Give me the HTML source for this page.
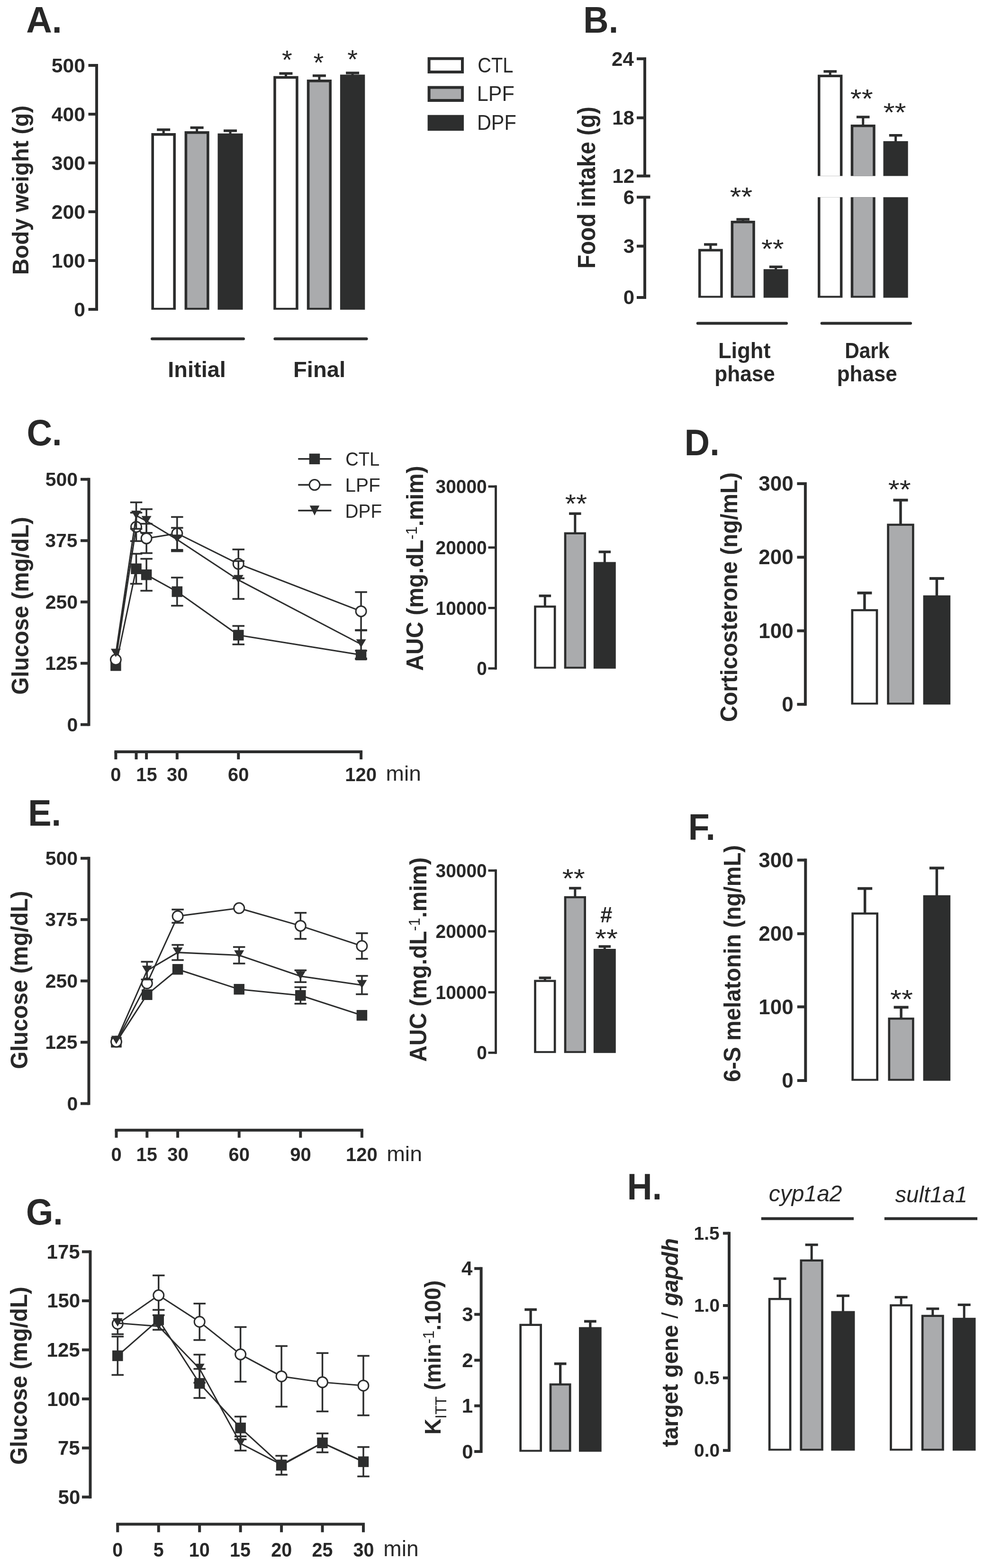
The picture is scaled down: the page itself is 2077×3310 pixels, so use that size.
<!DOCTYPE html>
<html><head><meta charset="utf-8"><title>Figure</title>
<style>
html,body{margin:0;padding:0;background:#fff;}
svg{display:block;}
text{font-family:"Liberation Sans",Arial,sans-serif;white-space:pre;}
</style></head>
<body>
<svg xmlns="http://www.w3.org/2000/svg" width="2077" height="3310" viewBox="0 0 2077 3310">
<rect width="2077" height="3310" fill="#fff"/>
<text transform="translate(55.21,69.00) scale(0.9792,1)" style="font-size:77.20px;font-weight:bold;font-style:normal" fill="#282828">A.</text>
<line x1="204.00" y1="135.00" x2="204.00" y2="656.00" stroke="#2c2d2d" stroke-width="6" stroke-linecap="butt"/>
<line x1="186.50" y1="138.00" x2="204.00" y2="138.00" stroke="#2c2d2d" stroke-width="6" stroke-linecap="butt"/>
<line x1="186.50" y1="241.00" x2="204.00" y2="241.00" stroke="#2c2d2d" stroke-width="6" stroke-linecap="butt"/>
<line x1="186.50" y1="344.00" x2="204.00" y2="344.00" stroke="#2c2d2d" stroke-width="6" stroke-linecap="butt"/>
<line x1="186.50" y1="447.00" x2="204.00" y2="447.00" stroke="#2c2d2d" stroke-width="6" stroke-linecap="butt"/>
<line x1="186.50" y1="550.00" x2="204.00" y2="550.00" stroke="#2c2d2d" stroke-width="6" stroke-linecap="butt"/>
<line x1="186.50" y1="653.00" x2="204.00" y2="653.00" stroke="#2c2d2d" stroke-width="6" stroke-linecap="butt"/>
<text x="108.87" y="152.70" style="font-size:42.60px;font-weight:bold;font-style:normal" fill="#282828">500</text>
<text x="108.87" y="255.70" style="font-size:42.60px;font-weight:bold;font-style:normal" fill="#282828">400</text>
<text x="108.87" y="358.70" style="font-size:42.60px;font-weight:bold;font-style:normal" fill="#282828">300</text>
<text x="108.87" y="461.70" style="font-size:42.60px;font-weight:bold;font-style:normal" fill="#282828">200</text>
<text x="108.87" y="564.70" style="font-size:42.60px;font-weight:bold;font-style:normal" fill="#282828">100</text>
<text x="156.26" y="667.70" style="font-size:42.60px;font-weight:bold;font-style:normal" fill="#282828">0</text>
<g transform="translate(59.70,580.32) rotate(-90) scale(0.9736,1)"><text x="0.00" y="0.00" style="font-size:49.00px;font-weight:bold;font-style:normal" fill="#282828">Body weight (g)</text></g>
<line x1="345.20" y1="282.00" x2="345.20" y2="273.80" stroke="#2c2d2d" stroke-width="5" stroke-linecap="butt"/>
<line x1="331.20" y1="273.80" x2="359.20" y2="273.80" stroke="#2c2d2d" stroke-width="5.4" stroke-linecap="butt"/>
<line x1="415.65" y1="278.00" x2="415.65" y2="269.50" stroke="#2c2d2d" stroke-width="5" stroke-linecap="butt"/>
<line x1="401.65" y1="269.50" x2="429.65" y2="269.50" stroke="#2c2d2d" stroke-width="5.4" stroke-linecap="butt"/>
<line x1="486.00" y1="282.70" x2="486.00" y2="276.00" stroke="#2c2d2d" stroke-width="5" stroke-linecap="butt"/>
<line x1="472.00" y1="276.00" x2="500.00" y2="276.00" stroke="#2c2d2d" stroke-width="5.4" stroke-linecap="butt"/>
<line x1="603.45" y1="161.60" x2="603.45" y2="155.10" stroke="#2c2d2d" stroke-width="5" stroke-linecap="butt"/>
<line x1="589.45" y1="155.10" x2="617.45" y2="155.10" stroke="#2c2d2d" stroke-width="5.4" stroke-linecap="butt"/>
<line x1="673.90" y1="169.00" x2="673.90" y2="159.80" stroke="#2c2d2d" stroke-width="5" stroke-linecap="butt"/>
<line x1="659.90" y1="159.80" x2="687.90" y2="159.80" stroke="#2c2d2d" stroke-width="5.4" stroke-linecap="butt"/>
<line x1="744.10" y1="158.50" x2="744.10" y2="154.00" stroke="#2c2d2d" stroke-width="5" stroke-linecap="butt"/>
<line x1="730.10" y1="154.00" x2="758.10" y2="154.00" stroke="#2c2d2d" stroke-width="5.4" stroke-linecap="butt"/>
<rect x="319.40" y="281.00" width="51.60" height="372.80" fill="#2c2d2d"/>
<rect x="325.00" y="286.60" width="40.40" height="363.20" fill="#ffffff"/>
<rect x="389.60" y="277.00" width="52.10" height="376.80" fill="#2c2d2d"/>
<rect x="395.20" y="282.60" width="40.90" height="367.20" fill="#aaabad"/>
<rect x="459.50" y="281.70" width="53.00" height="372.10" fill="#2d2e2e"/>
<rect x="577.20" y="160.60" width="52.50" height="493.20" fill="#2c2d2d"/>
<rect x="582.80" y="166.20" width="41.30" height="483.60" fill="#ffffff"/>
<rect x="647.80" y="168.00" width="52.20" height="485.80" fill="#2c2d2d"/>
<rect x="653.40" y="173.60" width="41.00" height="476.20" fill="#aaabad"/>
<rect x="717.90" y="157.50" width="52.40" height="496.30" fill="#2d2e2e"/>
<text transform="translate(594.97,145.11) scale(1.0166,1)" style="font-size:55.14px;font-weight:normal;font-style:normal" fill="#282828">*</text>
<text transform="translate(661.47,150.61) scale(1.0166,1)" style="font-size:55.14px;font-weight:normal;font-style:normal" fill="#282828">*</text>
<text transform="translate(733.27,143.61) scale(1.0166,1)" style="font-size:55.14px;font-weight:normal;font-style:normal" fill="#282828">*</text>
<line x1="321.00" y1="715.20" x2="514.00" y2="715.20" stroke="#2c2d2d" stroke-width="6" stroke-linecap="round"/>
<line x1="580.40" y1="715.20" x2="773.60" y2="715.20" stroke="#2c2d2d" stroke-width="6" stroke-linecap="round"/>
<text transform="translate(354.33,795.70) scale(0.9982,1)" style="font-size:47.00px;font-weight:bold;font-style:normal" fill="#282828">Initial</text>
<text transform="translate(619.02,795.70) scale(1.0032,1)" style="font-size:47.00px;font-weight:bold;font-style:normal" fill="#282828">Final</text>
<rect x="902.60" y="120.70" width="76.40" height="34.30" fill="#2c2d2d"/>
<rect x="908.60" y="126.70" width="64.40" height="22.30" fill="#ffffff"/>
<rect x="902.60" y="181.60" width="76.40" height="33.40" fill="#2c2d2d"/>
<rect x="908.60" y="187.60" width="64.40" height="21.40" fill="#aaabad"/>
<rect x="902.60" y="242.70" width="76.40" height="33.30" fill="#2d2e2e"/>
<text transform="translate(1008.31,153.40) scale(0.8979,1)" style="font-size:44.30px;font-weight:normal;font-style:normal" fill="#282828">CTL</text>
<text transform="translate(1006.74,213.30) scale(0.9742,1)" style="font-size:44.30px;font-weight:normal;font-style:normal" fill="#282828">LPF</text>
<text transform="translate(1006.88,273.80) scale(0.9354,1)" style="font-size:44.30px;font-weight:normal;font-style:normal" fill="#282828">DPF</text>
<text transform="translate(1231.31,69.00) scale(0.9569,1)" style="font-size:77.20px;font-weight:bold;font-style:normal" fill="#282828">B.</text>
<line x1="1361.00" y1="121.10" x2="1361.00" y2="371.50" stroke="#2c2d2d" stroke-width="6" stroke-linecap="butt"/>
<line x1="1361.00" y1="416.30" x2="1361.00" y2="631.00" stroke="#2c2d2d" stroke-width="6" stroke-linecap="butt"/>
<line x1="1344.00" y1="124.10" x2="1361.00" y2="124.10" stroke="#2c2d2d" stroke-width="6" stroke-linecap="butt"/>
<line x1="1344.00" y1="248.70" x2="1361.00" y2="248.70" stroke="#2c2d2d" stroke-width="6" stroke-linecap="butt"/>
<line x1="1344.00" y1="519.60" x2="1361.00" y2="519.60" stroke="#2c2d2d" stroke-width="6" stroke-linecap="butt"/>
<line x1="1344.00" y1="628.00" x2="1361.00" y2="628.00" stroke="#2c2d2d" stroke-width="6" stroke-linecap="butt"/>
<line x1="1344.00" y1="371.50" x2="1372.50" y2="371.50" stroke="#2c2d2d" stroke-width="6" stroke-linecap="butt"/>
<line x1="1344.00" y1="416.30" x2="1372.50" y2="416.30" stroke="#2c2d2d" stroke-width="6" stroke-linecap="butt"/>
<text x="1291.09" y="138.59" style="font-size:42.00px;font-weight:bold;font-style:normal" fill="#282828">24</text>
<text x="1292.14" y="263.19" style="font-size:42.00px;font-weight:bold;font-style:normal" fill="#282828">18</text>
<text x="1292.45" y="385.99" style="font-size:42.00px;font-weight:bold;font-style:normal" fill="#282828">12</text>
<text x="1315.66" y="430.79" style="font-size:42.00px;font-weight:bold;font-style:normal" fill="#282828">6</text>
<text x="1315.66" y="534.09" style="font-size:42.00px;font-weight:bold;font-style:normal" fill="#282828">3</text>
<text x="1315.87" y="642.49" style="font-size:42.00px;font-weight:bold;font-style:normal" fill="#282828">0</text>
<g transform="translate(1255.60,567.02) rotate(-90) scale(0.9359,1)"><text x="0.00" y="0.00" style="font-size:51.00px;font-weight:bold;font-style:normal" fill="#282828">Food intake (g)</text></g>
<line x1="1499.85" y1="526.50" x2="1499.85" y2="516.00" stroke="#2c2d2d" stroke-width="5" stroke-linecap="butt"/>
<line x1="1486.05" y1="516.00" x2="1513.65" y2="516.00" stroke="#2c2d2d" stroke-width="5.4" stroke-linecap="butt"/>
<line x1="1568.20" y1="467.00" x2="1568.20" y2="463.00" stroke="#2c2d2d" stroke-width="5" stroke-linecap="butt"/>
<line x1="1554.40" y1="463.00" x2="1582.00" y2="463.00" stroke="#2c2d2d" stroke-width="5.4" stroke-linecap="butt"/>
<line x1="1637.65" y1="569.20" x2="1637.65" y2="563.30" stroke="#2c2d2d" stroke-width="5" stroke-linecap="butt"/>
<line x1="1623.85" y1="563.30" x2="1651.45" y2="563.30" stroke="#2c2d2d" stroke-width="5.4" stroke-linecap="butt"/>
<rect x="1474.00" y="525.50" width="51.70" height="103.00" fill="#2c2d2d"/>
<rect x="1479.50" y="530.80" width="40.70" height="93.70" fill="#ffffff"/>
<rect x="1542.60" y="466.00" width="51.20" height="162.50" fill="#2c2d2d"/>
<rect x="1548.10" y="471.30" width="40.20" height="153.20" fill="#aaabad"/>
<rect x="1611.70" y="568.20" width="51.90" height="60.30" fill="#2d2e2e"/>
<line x1="1752.20" y1="158.70" x2="1752.20" y2="150.80" stroke="#2c2d2d" stroke-width="5" stroke-linecap="butt"/>
<line x1="1738.40" y1="150.80" x2="1766.00" y2="150.80" stroke="#2c2d2d" stroke-width="5.4" stroke-linecap="butt"/>
<rect x="1726.00" y="157.70" width="52.40" height="213.80" fill="#2c2d2d"/>
<rect x="1731.50" y="163.00" width="41.40" height="208.50" fill="#ffffff"/>
<rect x="1726.00" y="416.30" width="52.40" height="212.20" fill="#2c2d2d"/>
<rect x="1731.50" y="416.30" width="41.40" height="208.20" fill="#ffffff"/>
<line x1="1821.70" y1="264.00" x2="1821.70" y2="247.00" stroke="#2c2d2d" stroke-width="5" stroke-linecap="butt"/>
<line x1="1807.90" y1="247.00" x2="1835.50" y2="247.00" stroke="#2c2d2d" stroke-width="5.4" stroke-linecap="butt"/>
<rect x="1795.70" y="263.00" width="52.00" height="108.50" fill="#2c2d2d"/>
<rect x="1801.20" y="268.30" width="41.00" height="103.20" fill="#aaabad"/>
<rect x="1795.70" y="416.30" width="52.00" height="212.20" fill="#2c2d2d"/>
<rect x="1801.20" y="416.30" width="41.00" height="208.20" fill="#aaabad"/>
<line x1="1890.55" y1="299.00" x2="1890.55" y2="285.70" stroke="#2c2d2d" stroke-width="5" stroke-linecap="butt"/>
<line x1="1876.75" y1="285.70" x2="1904.35" y2="285.70" stroke="#2c2d2d" stroke-width="5.4" stroke-linecap="butt"/>
<rect x="1864.50" y="298.00" width="52.10" height="73.50" fill="#2d2e2e"/>
<rect x="1864.50" y="416.30" width="52.10" height="212.20" fill="#2d2e2e"/>
<text transform="translate(1540.73,434.11) scale(1.1051,1)" style="font-size:55.14px;font-weight:normal;font-style:normal" fill="#282828">**</text>
<text transform="translate(1606.98,544.11) scale(1.1124,1)" style="font-size:55.14px;font-weight:normal;font-style:normal" fill="#282828">**</text>
<text transform="translate(1794.82,226.61) scale(1.1149,1)" style="font-size:55.14px;font-weight:normal;font-style:normal" fill="#282828">**</text>
<text transform="translate(1864.42,255.61) scale(1.1197,1)" style="font-size:55.14px;font-weight:normal;font-style:normal" fill="#282828">**</text>
<line x1="1472.80" y1="682.50" x2="1660.00" y2="682.50" stroke="#2c2d2d" stroke-width="6" stroke-linecap="round"/>
<line x1="1734.70" y1="682.50" x2="1922.00" y2="682.50" stroke="#2c2d2d" stroke-width="6" stroke-linecap="round"/>
<text transform="translate(1515.95,755.70) scale(0.9669,1)" style="font-size:46.80px;font-weight:bold;font-style:normal" fill="#282828">Light</text>
<text transform="translate(1508.23,805.00) scale(0.9435,1)" style="font-size:46.80px;font-weight:bold;font-style:normal" fill="#282828">phase</text>
<text transform="translate(1783.14,755.70) scale(0.9062,1)" style="font-size:46.80px;font-weight:bold;font-style:normal" fill="#282828">Dark</text>
<text transform="translate(1766.74,805.00) scale(0.9389,1)" style="font-size:46.80px;font-weight:bold;font-style:normal" fill="#282828">phase</text>
<text transform="translate(56.43,940.00) scale(0.9623,1)" style="font-size:77.20px;font-weight:bold;font-style:normal" fill="#282828">C.</text>
<line x1="187.50" y1="1008.80" x2="187.50" y2="1532.60" stroke="#2c2d2d" stroke-width="6" stroke-linecap="butt"/>
<line x1="170.00" y1="1011.80" x2="187.50" y2="1011.80" stroke="#2c2d2d" stroke-width="6" stroke-linecap="butt"/>
<line x1="170.00" y1="1141.25" x2="187.50" y2="1141.25" stroke="#2c2d2d" stroke-width="6" stroke-linecap="butt"/>
<line x1="170.00" y1="1270.70" x2="187.50" y2="1270.70" stroke="#2c2d2d" stroke-width="6" stroke-linecap="butt"/>
<line x1="170.00" y1="1400.15" x2="187.50" y2="1400.15" stroke="#2c2d2d" stroke-width="6" stroke-linecap="butt"/>
<line x1="170.00" y1="1529.60" x2="187.50" y2="1529.60" stroke="#2c2d2d" stroke-width="6" stroke-linecap="butt"/>
<text x="95.77" y="1025.94" style="font-size:41.00px;font-weight:bold;font-style:normal" fill="#282828">500</text>
<text x="95.26" y="1155.39" style="font-size:41.00px;font-weight:bold;font-style:normal" fill="#282828">375</text>
<text x="95.77" y="1284.84" style="font-size:41.00px;font-weight:bold;font-style:normal" fill="#282828">250</text>
<text x="95.26" y="1414.29" style="font-size:41.00px;font-weight:bold;font-style:normal" fill="#282828">125</text>
<text x="141.38" y="1543.74" style="font-size:41.00px;font-weight:bold;font-style:normal" fill="#282828">0</text>
<g transform="translate(59.90,1466.40) rotate(-90) scale(0.9513,1)"><text x="0.00" y="0.00" style="font-size:50.00px;font-weight:bold;font-style:normal" fill="#282828">Glucose (mg/dL)</text></g>
<line x1="241.40" y1="1587.00" x2="765.10" y2="1587.00" stroke="#2c2d2d" stroke-width="6" stroke-linecap="butt"/>
<line x1="244.40" y1="1587.00" x2="244.40" y2="1603.00" stroke="#2c2d2d" stroke-width="6" stroke-linecap="butt"/>
<line x1="287.54" y1="1587.00" x2="287.54" y2="1603.00" stroke="#2c2d2d" stroke-width="6" stroke-linecap="butt"/>
<line x1="309.11" y1="1587.00" x2="309.11" y2="1603.00" stroke="#2c2d2d" stroke-width="6" stroke-linecap="butt"/>
<line x1="373.83" y1="1587.00" x2="373.83" y2="1603.00" stroke="#2c2d2d" stroke-width="6" stroke-linecap="butt"/>
<line x1="503.25" y1="1587.00" x2="503.25" y2="1603.00" stroke="#2c2d2d" stroke-width="6" stroke-linecap="butt"/>
<line x1="762.10" y1="1587.00" x2="762.10" y2="1603.00" stroke="#2c2d2d" stroke-width="6" stroke-linecap="butt"/>
<text x="233.30" y="1648.50" style="font-size:40.00px;font-weight:bold;font-style:normal" fill="#282828">0</text>
<text x="287.21" y="1648.50" style="font-size:40.00px;font-weight:bold;font-style:normal" fill="#282828">15</text>
<text x="351.98" y="1648.50" style="font-size:40.00px;font-weight:bold;font-style:normal" fill="#282828">30</text>
<text x="481.10" y="1648.50" style="font-size:40.00px;font-weight:bold;font-style:normal" fill="#282828">60</text>
<text x="728.30" y="1648.50" style="font-size:40.00px;font-weight:bold;font-style:normal" fill="#282828">120</text>
<text transform="translate(814.59,1648.30) scale(1.0225,1)" style="font-size:45.00px;font-weight:normal;font-style:normal" fill="#282828">min</text>
<polyline points="244.40,1405.02 287.54,1200.69 309.11,1213.33 373.83,1248.95 503.25,1340.81 762.10,1382.54" fill="none" stroke="#2c2d2d" stroke-width="3"/>
<line x1="287.54" y1="1200.69" x2="287.54" y2="1168.99" stroke="#2c2d2d" stroke-width="3.5" stroke-linecap="butt"/>
<line x1="274.79" y1="1168.99" x2="300.29" y2="1168.99" stroke="#2c2d2d" stroke-width="3.6" stroke-linecap="butt"/>
<line x1="287.54" y1="1200.69" x2="287.54" y2="1232.39" stroke="#2c2d2d" stroke-width="3.5" stroke-linecap="butt"/>
<line x1="274.79" y1="1232.39" x2="300.29" y2="1232.39" stroke="#2c2d2d" stroke-width="3.6" stroke-linecap="butt"/>
<line x1="309.11" y1="1213.33" x2="309.11" y2="1179.63" stroke="#2c2d2d" stroke-width="3.5" stroke-linecap="butt"/>
<line x1="296.36" y1="1179.63" x2="321.86" y2="1179.63" stroke="#2c2d2d" stroke-width="3.6" stroke-linecap="butt"/>
<line x1="309.11" y1="1213.33" x2="309.11" y2="1247.03" stroke="#2c2d2d" stroke-width="3.5" stroke-linecap="butt"/>
<line x1="296.36" y1="1247.03" x2="321.86" y2="1247.03" stroke="#2c2d2d" stroke-width="3.6" stroke-linecap="butt"/>
<line x1="373.83" y1="1248.95" x2="373.83" y2="1219.25" stroke="#2c2d2d" stroke-width="3.5" stroke-linecap="butt"/>
<line x1="361.08" y1="1219.25" x2="386.58" y2="1219.25" stroke="#2c2d2d" stroke-width="3.6" stroke-linecap="butt"/>
<line x1="373.83" y1="1248.95" x2="373.83" y2="1278.65" stroke="#2c2d2d" stroke-width="3.5" stroke-linecap="butt"/>
<line x1="361.08" y1="1278.65" x2="386.58" y2="1278.65" stroke="#2c2d2d" stroke-width="3.6" stroke-linecap="butt"/>
<line x1="503.25" y1="1340.81" x2="503.25" y2="1321.31" stroke="#2c2d2d" stroke-width="3.5" stroke-linecap="butt"/>
<line x1="490.50" y1="1321.31" x2="516.00" y2="1321.31" stroke="#2c2d2d" stroke-width="3.6" stroke-linecap="butt"/>
<line x1="503.25" y1="1340.81" x2="503.25" y2="1360.31" stroke="#2c2d2d" stroke-width="3.5" stroke-linecap="butt"/>
<line x1="490.50" y1="1360.31" x2="516.00" y2="1360.31" stroke="#2c2d2d" stroke-width="3.6" stroke-linecap="butt"/>
<line x1="762.10" y1="1382.54" x2="762.10" y2="1373.54" stroke="#2c2d2d" stroke-width="3.5" stroke-linecap="butt"/>
<line x1="749.35" y1="1373.54" x2="774.85" y2="1373.54" stroke="#2c2d2d" stroke-width="3.6" stroke-linecap="butt"/>
<line x1="762.10" y1="1382.54" x2="762.10" y2="1391.54" stroke="#2c2d2d" stroke-width="3.5" stroke-linecap="butt"/>
<line x1="749.35" y1="1391.54" x2="774.85" y2="1391.54" stroke="#2c2d2d" stroke-width="3.6" stroke-linecap="butt"/>
<rect x="233.15" y="1393.77" width="22.50" height="22.50" fill="#2d2e2e"/>
<rect x="276.29" y="1189.44" width="22.50" height="22.50" fill="#2d2e2e"/>
<rect x="297.86" y="1202.08" width="22.50" height="22.50" fill="#2d2e2e"/>
<rect x="362.58" y="1237.70" width="22.50" height="22.50" fill="#2d2e2e"/>
<rect x="492.00" y="1329.56" width="22.50" height="22.50" fill="#2d2e2e"/>
<rect x="750.85" y="1371.29" width="22.50" height="22.50" fill="#2d2e2e"/>
<polyline points="244.40,1392.59 287.54,1112.25 309.11,1136.59 373.83,1126.03 503.25,1190.34 762.10,1290.38" fill="none" stroke="#2c2d2d" stroke-width="3"/>
<line x1="287.54" y1="1112.25" x2="287.54" y2="1082.25" stroke="#2c2d2d" stroke-width="3.5" stroke-linecap="butt"/>
<line x1="274.79" y1="1082.25" x2="300.29" y2="1082.25" stroke="#2c2d2d" stroke-width="3.6" stroke-linecap="butt"/>
<line x1="287.54" y1="1112.25" x2="287.54" y2="1142.25" stroke="#2c2d2d" stroke-width="3.5" stroke-linecap="butt"/>
<line x1="274.79" y1="1142.25" x2="300.29" y2="1142.25" stroke="#2c2d2d" stroke-width="3.6" stroke-linecap="butt"/>
<line x1="309.11" y1="1136.59" x2="309.11" y2="1105.59" stroke="#2c2d2d" stroke-width="3.5" stroke-linecap="butt"/>
<line x1="296.36" y1="1105.59" x2="321.86" y2="1105.59" stroke="#2c2d2d" stroke-width="3.6" stroke-linecap="butt"/>
<line x1="309.11" y1="1136.59" x2="309.11" y2="1167.59" stroke="#2c2d2d" stroke-width="3.5" stroke-linecap="butt"/>
<line x1="296.36" y1="1167.59" x2="321.86" y2="1167.59" stroke="#2c2d2d" stroke-width="3.6" stroke-linecap="butt"/>
<line x1="373.83" y1="1126.03" x2="373.83" y2="1091.33" stroke="#2c2d2d" stroke-width="3.5" stroke-linecap="butt"/>
<line x1="361.08" y1="1091.33" x2="386.58" y2="1091.33" stroke="#2c2d2d" stroke-width="3.6" stroke-linecap="butt"/>
<line x1="373.83" y1="1126.03" x2="373.83" y2="1160.73" stroke="#2c2d2d" stroke-width="3.5" stroke-linecap="butt"/>
<line x1="361.08" y1="1160.73" x2="386.58" y2="1160.73" stroke="#2c2d2d" stroke-width="3.6" stroke-linecap="butt"/>
<line x1="503.25" y1="1190.34" x2="503.25" y2="1159.84" stroke="#2c2d2d" stroke-width="3.5" stroke-linecap="butt"/>
<line x1="490.50" y1="1159.84" x2="516.00" y2="1159.84" stroke="#2c2d2d" stroke-width="3.6" stroke-linecap="butt"/>
<line x1="503.25" y1="1190.34" x2="503.25" y2="1220.84" stroke="#2c2d2d" stroke-width="3.5" stroke-linecap="butt"/>
<line x1="490.50" y1="1220.84" x2="516.00" y2="1220.84" stroke="#2c2d2d" stroke-width="3.6" stroke-linecap="butt"/>
<line x1="762.10" y1="1290.38" x2="762.10" y2="1249.88" stroke="#2c2d2d" stroke-width="3.5" stroke-linecap="butt"/>
<line x1="749.35" y1="1249.88" x2="774.85" y2="1249.88" stroke="#2c2d2d" stroke-width="3.6" stroke-linecap="butt"/>
<line x1="762.10" y1="1290.38" x2="762.10" y2="1330.88" stroke="#2c2d2d" stroke-width="3.5" stroke-linecap="butt"/>
<line x1="749.35" y1="1330.88" x2="774.85" y2="1330.88" stroke="#2c2d2d" stroke-width="3.6" stroke-linecap="butt"/>
<circle cx="244.40" cy="1392.59" r="11" fill="#fff" stroke="#2c2d2d" stroke-width="3"/>
<circle cx="287.54" cy="1112.25" r="11" fill="#fff" stroke="#2c2d2d" stroke-width="3"/>
<circle cx="309.11" cy="1136.59" r="11" fill="#fff" stroke="#2c2d2d" stroke-width="3"/>
<circle cx="373.83" cy="1126.03" r="11" fill="#fff" stroke="#2c2d2d" stroke-width="3"/>
<circle cx="503.25" cy="1190.34" r="11" fill="#fff" stroke="#2c2d2d" stroke-width="3"/>
<circle cx="762.10" cy="1290.38" r="11" fill="#fff" stroke="#2c2d2d" stroke-width="3"/>
<polyline points="244.40,1379.96 287.54,1088.43 309.11,1099.83 373.83,1138.97 503.25,1224.31 762.10,1359.97" fill="none" stroke="#2c2d2d" stroke-width="3"/>
<line x1="287.54" y1="1088.43" x2="287.54" y2="1060.43" stroke="#2c2d2d" stroke-width="3.5" stroke-linecap="butt"/>
<line x1="274.79" y1="1060.43" x2="300.29" y2="1060.43" stroke="#2c2d2d" stroke-width="3.6" stroke-linecap="butt"/>
<line x1="287.54" y1="1088.43" x2="287.54" y2="1116.43" stroke="#2c2d2d" stroke-width="3.5" stroke-linecap="butt"/>
<line x1="274.79" y1="1116.43" x2="300.29" y2="1116.43" stroke="#2c2d2d" stroke-width="3.6" stroke-linecap="butt"/>
<line x1="309.11" y1="1099.83" x2="309.11" y2="1074.83" stroke="#2c2d2d" stroke-width="3.5" stroke-linecap="butt"/>
<line x1="296.36" y1="1074.83" x2="321.86" y2="1074.83" stroke="#2c2d2d" stroke-width="3.6" stroke-linecap="butt"/>
<line x1="309.11" y1="1099.83" x2="309.11" y2="1124.83" stroke="#2c2d2d" stroke-width="3.5" stroke-linecap="butt"/>
<line x1="296.36" y1="1124.83" x2="321.86" y2="1124.83" stroke="#2c2d2d" stroke-width="3.6" stroke-linecap="butt"/>
<line x1="373.83" y1="1138.97" x2="373.83" y2="1114.27" stroke="#2c2d2d" stroke-width="3.5" stroke-linecap="butt"/>
<line x1="361.08" y1="1114.27" x2="386.58" y2="1114.27" stroke="#2c2d2d" stroke-width="3.6" stroke-linecap="butt"/>
<line x1="373.83" y1="1138.97" x2="373.83" y2="1163.67" stroke="#2c2d2d" stroke-width="3.5" stroke-linecap="butt"/>
<line x1="361.08" y1="1163.67" x2="386.58" y2="1163.67" stroke="#2c2d2d" stroke-width="3.6" stroke-linecap="butt"/>
<line x1="503.25" y1="1224.31" x2="503.25" y2="1184.31" stroke="#2c2d2d" stroke-width="3.5" stroke-linecap="butt"/>
<line x1="490.50" y1="1184.31" x2="516.00" y2="1184.31" stroke="#2c2d2d" stroke-width="3.6" stroke-linecap="butt"/>
<line x1="503.25" y1="1224.31" x2="503.25" y2="1264.31" stroke="#2c2d2d" stroke-width="3.5" stroke-linecap="butt"/>
<line x1="490.50" y1="1264.31" x2="516.00" y2="1264.31" stroke="#2c2d2d" stroke-width="3.6" stroke-linecap="butt"/>
<line x1="762.10" y1="1359.97" x2="762.10" y2="1329.97" stroke="#2c2d2d" stroke-width="3.5" stroke-linecap="butt"/>
<line x1="749.35" y1="1329.97" x2="774.85" y2="1329.97" stroke="#2c2d2d" stroke-width="3.6" stroke-linecap="butt"/>
<line x1="762.10" y1="1359.97" x2="762.10" y2="1389.97" stroke="#2c2d2d" stroke-width="3.5" stroke-linecap="butt"/>
<line x1="749.35" y1="1389.97" x2="774.85" y2="1389.97" stroke="#2c2d2d" stroke-width="3.6" stroke-linecap="butt"/>
<path d="M233.90,1369.41 L254.90,1369.41 L244.40,1386.91 Z" fill="#2d2e2e"/>
<path d="M277.04,1077.88 L298.04,1077.88 L287.54,1095.38 Z" fill="#2d2e2e"/>
<path d="M298.61,1089.28 L319.61,1089.28 L309.11,1106.78 Z" fill="#2d2e2e"/>
<path d="M363.33,1128.42 L384.33,1128.42 L373.83,1145.92 Z" fill="#2d2e2e"/>
<path d="M492.75,1213.76 L513.75,1213.76 L503.25,1231.26 Z" fill="#2d2e2e"/>
<path d="M751.60,1349.42 L772.60,1349.42 L762.10,1366.92 Z" fill="#2d2e2e"/>
<line x1="629.30" y1="968.80" x2="699.40" y2="968.80" stroke="#2c2d2d" stroke-width="3.5" stroke-linecap="butt"/>
<rect x="652.75" y="957.55" width="22.50" height="22.50" fill="#2d2e2e"/>
<text transform="translate(729.19,983.00) scale(0.9229,1)" style="font-size:41.30px;font-weight:normal;font-style:normal" fill="#282828">CTL</text>
<line x1="629.30" y1="1023.60" x2="699.40" y2="1023.60" stroke="#2c2d2d" stroke-width="3.5" stroke-linecap="butt"/>
<circle cx="664.00" cy="1023.60" r="11" fill="#fff" stroke="#2c2d2d" stroke-width="3"/>
<text transform="translate(728.45,1037.90) scale(0.9827,1)" style="font-size:41.30px;font-weight:normal;font-style:normal" fill="#282828">LPF</text>
<line x1="629.30" y1="1077.80" x2="699.40" y2="1077.80" stroke="#2c2d2d" stroke-width="3.5" stroke-linecap="butt"/>
<path d="M653.75,1067.30 L674.25,1067.30 L664.00,1088.30 Z" fill="#2d2e2e"/>
<text transform="translate(728.61,1093.40) scale(0.9376,1)" style="font-size:41.30px;font-weight:normal;font-style:normal" fill="#282828">DPF</text>
<line x1="1046.50" y1="1024.60" x2="1046.50" y2="1413.40" stroke="#2c2d2d" stroke-width="4.8" stroke-linecap="butt"/>
<line x1="1030.50" y1="1027.00" x2="1046.50" y2="1027.00" stroke="#2c2d2d" stroke-width="4.8" stroke-linecap="butt"/>
<line x1="1030.50" y1="1155.80" x2="1046.50" y2="1155.80" stroke="#2c2d2d" stroke-width="4.8" stroke-linecap="butt"/>
<line x1="1030.50" y1="1283.40" x2="1046.50" y2="1283.40" stroke="#2c2d2d" stroke-width="4.8" stroke-linecap="butt"/>
<line x1="1030.50" y1="1411.00" x2="1046.50" y2="1411.00" stroke="#2c2d2d" stroke-width="4.8" stroke-linecap="butt"/>
<text transform="translate(919.48,1041.14) scale(0.9500,1)" style="font-size:41.00px;font-weight:bold;font-style:normal" fill="#282828">30000</text>
<text transform="translate(919.48,1169.94) scale(0.9500,1)" style="font-size:41.00px;font-weight:bold;font-style:normal" fill="#282828">20000</text>
<text transform="translate(919.48,1297.55) scale(0.9500,1)" style="font-size:41.00px;font-weight:bold;font-style:normal" fill="#282828">10000</text>
<text transform="translate(1006.14,1425.14) scale(0.9500,1)" style="font-size:41.00px;font-weight:bold;font-style:normal" fill="#282828">0</text>
<g transform="translate(893.40,1416.30) rotate(-90) scale(0.9502,1)"><text x="0.00" y="0.00" style="font-size:50.50px;font-weight:bold;font-style:normal" fill="#282828">AUC (mg.dL</text><text x="291.74" y="-13.70" style="font-size:33.00px;font-weight:normal;font-style:normal" fill="#282828">-1</text><text x="321.08" y="0.00" style="font-size:50.50px;font-weight:bold;font-style:normal" fill="#282828">.mim)</text></g>
<line x1="1150.35" y1="1279.30" x2="1150.35" y2="1257.80" stroke="#2c2d2d" stroke-width="5" stroke-linecap="butt"/>
<line x1="1137.60" y1="1257.80" x2="1163.10" y2="1257.80" stroke="#2c2d2d" stroke-width="5.4" stroke-linecap="butt"/>
<line x1="1213.85" y1="1124.60" x2="1213.85" y2="1084.20" stroke="#2c2d2d" stroke-width="5" stroke-linecap="butt"/>
<line x1="1201.10" y1="1084.20" x2="1226.60" y2="1084.20" stroke="#2c2d2d" stroke-width="5.4" stroke-linecap="butt"/>
<line x1="1276.35" y1="1187.40" x2="1276.35" y2="1165.00" stroke="#2c2d2d" stroke-width="5" stroke-linecap="butt"/>
<line x1="1263.60" y1="1165.00" x2="1289.10" y2="1165.00" stroke="#2c2d2d" stroke-width="5.4" stroke-linecap="butt"/>
<rect x="1127.20" y="1278.30" width="46.30" height="133.20" fill="#2c2d2d"/>
<rect x="1131.90" y="1282.70" width="36.90" height="124.80" fill="#ffffff"/>
<rect x="1190.70" y="1123.60" width="46.30" height="287.90" fill="#2c2d2d"/>
<rect x="1195.40" y="1128.00" width="36.90" height="279.50" fill="#aaabad"/>
<rect x="1252.90" y="1186.40" width="46.90" height="225.10" fill="#2d2e2e"/>
<text transform="translate(1192.86,1082.31) scale(1.0808,1)" style="font-size:55.14px;font-weight:normal;font-style:normal" fill="#282828">**</text>
<text transform="translate(1444.81,960.60) scale(0.9569,1)" style="font-size:77.20px;font-weight:bold;font-style:normal" fill="#282828">D.</text>
<line x1="1699.90" y1="1018.00" x2="1699.90" y2="1489.80" stroke="#2c2d2d" stroke-width="6" stroke-linecap="butt"/>
<line x1="1682.40" y1="1021.00" x2="1699.90" y2="1021.00" stroke="#2c2d2d" stroke-width="6" stroke-linecap="butt"/>
<line x1="1682.40" y1="1176.30" x2="1699.90" y2="1176.30" stroke="#2c2d2d" stroke-width="6" stroke-linecap="butt"/>
<line x1="1682.40" y1="1331.60" x2="1699.90" y2="1331.60" stroke="#2c2d2d" stroke-width="6" stroke-linecap="butt"/>
<line x1="1682.40" y1="1486.80" x2="1699.90" y2="1486.80" stroke="#2c2d2d" stroke-width="6" stroke-linecap="butt"/>
<text x="1601.29" y="1036.18" style="font-size:44.00px;font-weight:bold;font-style:normal" fill="#282828">300</text>
<text x="1601.29" y="1191.48" style="font-size:44.00px;font-weight:bold;font-style:normal" fill="#282828">200</text>
<text x="1601.29" y="1346.78" style="font-size:44.00px;font-weight:bold;font-style:normal" fill="#282828">100</text>
<text x="1650.24" y="1501.98" style="font-size:44.00px;font-weight:bold;font-style:normal" fill="#282828">0</text>
<g transform="translate(1555.90,1523.91) rotate(-90) scale(0.9627,1)"><text x="0.00" y="0.00" style="font-size:49.50px;font-weight:bold;font-style:normal" fill="#282828">Corticosterone (ng/mL)</text></g>
<line x1="1824.90" y1="1286.90" x2="1824.90" y2="1251.70" stroke="#2c2d2d" stroke-width="5.5" stroke-linecap="butt"/>
<line x1="1809.40" y1="1251.70" x2="1840.40" y2="1251.70" stroke="#2c2d2d" stroke-width="5.8" stroke-linecap="butt"/>
<line x1="1900.95" y1="1106.50" x2="1900.95" y2="1055.70" stroke="#2c2d2d" stroke-width="5.5" stroke-linecap="butt"/>
<line x1="1885.45" y1="1055.70" x2="1916.45" y2="1055.70" stroke="#2c2d2d" stroke-width="5.8" stroke-linecap="butt"/>
<line x1="1977.35" y1="1257.80" x2="1977.35" y2="1221.10" stroke="#2c2d2d" stroke-width="5.5" stroke-linecap="butt"/>
<line x1="1961.85" y1="1221.10" x2="1992.85" y2="1221.10" stroke="#2c2d2d" stroke-width="5.8" stroke-linecap="butt"/>
<rect x="1796.50" y="1285.90" width="56.80" height="201.40" fill="#2c2d2d"/>
<rect x="1801.20" y="1290.30" width="47.40" height="193.00" fill="#ffffff"/>
<rect x="1872.20" y="1105.50" width="57.50" height="381.80" fill="#2c2d2d"/>
<rect x="1876.90" y="1109.90" width="48.10" height="373.40" fill="#aaabad"/>
<rect x="1948.60" y="1256.80" width="57.50" height="230.50" fill="#2d2e2e"/>
<text transform="translate(1874.83,1052.21) scale(1.1124,1)" style="font-size:55.14px;font-weight:normal;font-style:normal" fill="#282828">**</text>
<text transform="translate(59.21,1743.10) scale(0.9579,1)" style="font-size:77.20px;font-weight:bold;font-style:normal" fill="#282828">E.</text>
<line x1="187.50" y1="1808.80" x2="187.50" y2="2332.60" stroke="#2c2d2d" stroke-width="6" stroke-linecap="butt"/>
<line x1="170.00" y1="1811.80" x2="187.50" y2="1811.80" stroke="#2c2d2d" stroke-width="6" stroke-linecap="butt"/>
<line x1="170.00" y1="1941.25" x2="187.50" y2="1941.25" stroke="#2c2d2d" stroke-width="6" stroke-linecap="butt"/>
<line x1="170.00" y1="2070.70" x2="187.50" y2="2070.70" stroke="#2c2d2d" stroke-width="6" stroke-linecap="butt"/>
<line x1="170.00" y1="2200.15" x2="187.50" y2="2200.15" stroke="#2c2d2d" stroke-width="6" stroke-linecap="butt"/>
<line x1="170.00" y1="2329.60" x2="187.50" y2="2329.60" stroke="#2c2d2d" stroke-width="6" stroke-linecap="butt"/>
<text x="95.77" y="1825.94" style="font-size:41.00px;font-weight:bold;font-style:normal" fill="#282828">500</text>
<text x="95.26" y="1955.39" style="font-size:41.00px;font-weight:bold;font-style:normal" fill="#282828">375</text>
<text x="95.77" y="2084.84" style="font-size:41.00px;font-weight:bold;font-style:normal" fill="#282828">250</text>
<text x="95.26" y="2214.30" style="font-size:41.00px;font-weight:bold;font-style:normal" fill="#282828">125</text>
<text x="141.38" y="2343.74" style="font-size:41.00px;font-weight:bold;font-style:normal" fill="#282828">0</text>
<g transform="translate(57.50,2256.81) rotate(-90) scale(0.9541,1)"><text x="0.00" y="0.00" style="font-size:50.00px;font-weight:bold;font-style:normal" fill="#282828">Glucose (mg/dL)</text></g>
<line x1="242.50" y1="2385.70" x2="766.90" y2="2385.70" stroke="#2c2d2d" stroke-width="6" stroke-linecap="butt"/>
<line x1="245.50" y1="2385.70" x2="245.50" y2="2401.70" stroke="#2c2d2d" stroke-width="6" stroke-linecap="butt"/>
<line x1="310.30" y1="2385.70" x2="310.30" y2="2401.70" stroke="#2c2d2d" stroke-width="6" stroke-linecap="butt"/>
<line x1="375.10" y1="2385.70" x2="375.10" y2="2401.70" stroke="#2c2d2d" stroke-width="6" stroke-linecap="butt"/>
<line x1="504.70" y1="2385.70" x2="504.70" y2="2401.70" stroke="#2c2d2d" stroke-width="6" stroke-linecap="butt"/>
<line x1="634.30" y1="2385.70" x2="634.30" y2="2401.70" stroke="#2c2d2d" stroke-width="6" stroke-linecap="butt"/>
<line x1="763.90" y1="2385.70" x2="763.90" y2="2401.70" stroke="#2c2d2d" stroke-width="6" stroke-linecap="butt"/>
<text x="234.40" y="2450.70" style="font-size:40.00px;font-weight:bold;font-style:normal" fill="#282828">0</text>
<text x="287.40" y="2450.70" style="font-size:40.00px;font-weight:bold;font-style:normal" fill="#282828">15</text>
<text x="353.25" y="2450.70" style="font-size:40.00px;font-weight:bold;font-style:normal" fill="#282828">30</text>
<text x="482.55" y="2450.70" style="font-size:40.00px;font-weight:bold;font-style:normal" fill="#282828">60</text>
<text x="612.20" y="2450.70" style="font-size:40.00px;font-weight:bold;font-style:normal" fill="#282828">90</text>
<text x="730.10" y="2450.70" style="font-size:40.00px;font-weight:bold;font-style:normal" fill="#282828">120</text>
<text transform="translate(816.17,2450.50) scale(1.0315,1)" style="font-size:45.00px;font-weight:normal;font-style:normal" fill="#282828">min</text>
<polyline points="245.50,2200.05 310.30,2099.70 375.10,2046.26 504.70,2088.31 634.30,2101.35 763.90,2143.30" fill="none" stroke="#2c2d2d" stroke-width="3"/>
<line x1="634.30" y1="2101.35" x2="634.30" y2="2083.95" stroke="#2c2d2d" stroke-width="3.5" stroke-linecap="butt"/>
<line x1="621.55" y1="2083.95" x2="647.05" y2="2083.95" stroke="#2c2d2d" stroke-width="3.6" stroke-linecap="butt"/>
<line x1="634.30" y1="2101.35" x2="634.30" y2="2118.75" stroke="#2c2d2d" stroke-width="3.5" stroke-linecap="butt"/>
<line x1="621.55" y1="2118.75" x2="647.05" y2="2118.75" stroke="#2c2d2d" stroke-width="3.6" stroke-linecap="butt"/>
<rect x="234.25" y="2188.80" width="22.50" height="22.50" fill="#2d2e2e"/>
<rect x="299.05" y="2088.45" width="22.50" height="22.50" fill="#2d2e2e"/>
<rect x="363.85" y="2035.01" width="22.50" height="22.50" fill="#2d2e2e"/>
<rect x="493.45" y="2077.06" width="22.50" height="22.50" fill="#2d2e2e"/>
<rect x="623.05" y="2090.10" width="22.50" height="22.50" fill="#2d2e2e"/>
<rect x="752.65" y="2132.05" width="22.50" height="22.50" fill="#2d2e2e"/>
<polyline points="245.50,2199.11 310.30,2075.67 375.10,1934.00 504.70,1917.12 634.30,1954.40 763.90,1996.97" fill="none" stroke="#2c2d2d" stroke-width="3"/>
<line x1="375.10" y1="1934.00" x2="375.10" y2="1920.00" stroke="#2c2d2d" stroke-width="3.5" stroke-linecap="butt"/>
<line x1="362.35" y1="1920.00" x2="387.85" y2="1920.00" stroke="#2c2d2d" stroke-width="3.6" stroke-linecap="butt"/>
<line x1="375.10" y1="1934.00" x2="375.10" y2="1948.00" stroke="#2c2d2d" stroke-width="3.5" stroke-linecap="butt"/>
<line x1="362.35" y1="1948.00" x2="387.85" y2="1948.00" stroke="#2c2d2d" stroke-width="3.6" stroke-linecap="butt"/>
<line x1="634.30" y1="1954.40" x2="634.30" y2="1926.90" stroke="#2c2d2d" stroke-width="3.5" stroke-linecap="butt"/>
<line x1="621.55" y1="1926.90" x2="647.05" y2="1926.90" stroke="#2c2d2d" stroke-width="3.6" stroke-linecap="butt"/>
<line x1="634.30" y1="1954.40" x2="634.30" y2="1981.90" stroke="#2c2d2d" stroke-width="3.5" stroke-linecap="butt"/>
<line x1="621.55" y1="1981.90" x2="647.05" y2="1981.90" stroke="#2c2d2d" stroke-width="3.6" stroke-linecap="butt"/>
<line x1="763.90" y1="1996.97" x2="763.90" y2="1969.97" stroke="#2c2d2d" stroke-width="3.5" stroke-linecap="butt"/>
<line x1="751.15" y1="1969.97" x2="776.65" y2="1969.97" stroke="#2c2d2d" stroke-width="3.6" stroke-linecap="butt"/>
<line x1="763.90" y1="1996.97" x2="763.90" y2="2023.97" stroke="#2c2d2d" stroke-width="3.5" stroke-linecap="butt"/>
<line x1="751.15" y1="2023.97" x2="776.65" y2="2023.97" stroke="#2c2d2d" stroke-width="3.6" stroke-linecap="butt"/>
<circle cx="245.50" cy="2199.11" r="11" fill="#fff" stroke="#2c2d2d" stroke-width="3"/>
<circle cx="310.30" cy="2075.67" r="11" fill="#fff" stroke="#2c2d2d" stroke-width="3"/>
<circle cx="375.10" cy="1934.00" r="11" fill="#fff" stroke="#2c2d2d" stroke-width="3"/>
<circle cx="504.70" cy="1917.12" r="11" fill="#fff" stroke="#2c2d2d" stroke-width="3"/>
<circle cx="634.30" cy="1954.40" r="11" fill="#fff" stroke="#2c2d2d" stroke-width="3"/>
<circle cx="763.90" cy="1996.97" r="11" fill="#fff" stroke="#2c2d2d" stroke-width="3"/>
<polyline points="245.50,2197.04 310.30,2048.95 375.10,2010.64 504.70,2016.54 634.30,2060.76 763.90,2079.40" fill="none" stroke="#2c2d2d" stroke-width="3"/>
<line x1="310.30" y1="2048.95" x2="310.30" y2="2030.25" stroke="#2c2d2d" stroke-width="3.5" stroke-linecap="butt"/>
<line x1="297.55" y1="2030.25" x2="323.05" y2="2030.25" stroke="#2c2d2d" stroke-width="3.6" stroke-linecap="butt"/>
<line x1="310.30" y1="2048.95" x2="310.30" y2="2067.65" stroke="#2c2d2d" stroke-width="3.5" stroke-linecap="butt"/>
<line x1="297.55" y1="2067.65" x2="323.05" y2="2067.65" stroke="#2c2d2d" stroke-width="3.6" stroke-linecap="butt"/>
<line x1="375.10" y1="2010.64" x2="375.10" y2="1994.64" stroke="#2c2d2d" stroke-width="3.5" stroke-linecap="butt"/>
<line x1="362.35" y1="1994.64" x2="387.85" y2="1994.64" stroke="#2c2d2d" stroke-width="3.6" stroke-linecap="butt"/>
<line x1="375.10" y1="2010.64" x2="375.10" y2="2026.64" stroke="#2c2d2d" stroke-width="3.5" stroke-linecap="butt"/>
<line x1="362.35" y1="2026.64" x2="387.85" y2="2026.64" stroke="#2c2d2d" stroke-width="3.6" stroke-linecap="butt"/>
<line x1="504.70" y1="2016.54" x2="504.70" y2="1999.14" stroke="#2c2d2d" stroke-width="3.5" stroke-linecap="butt"/>
<line x1="491.95" y1="1999.14" x2="517.45" y2="1999.14" stroke="#2c2d2d" stroke-width="3.6" stroke-linecap="butt"/>
<line x1="504.70" y1="2016.54" x2="504.70" y2="2033.94" stroke="#2c2d2d" stroke-width="3.5" stroke-linecap="butt"/>
<line x1="491.95" y1="2033.94" x2="517.45" y2="2033.94" stroke="#2c2d2d" stroke-width="3.6" stroke-linecap="butt"/>
<line x1="634.30" y1="2060.76" x2="634.30" y2="2048.26" stroke="#2c2d2d" stroke-width="3.5" stroke-linecap="butt"/>
<line x1="621.55" y1="2048.26" x2="647.05" y2="2048.26" stroke="#2c2d2d" stroke-width="3.6" stroke-linecap="butt"/>
<line x1="634.30" y1="2060.76" x2="634.30" y2="2073.26" stroke="#2c2d2d" stroke-width="3.5" stroke-linecap="butt"/>
<line x1="621.55" y1="2073.26" x2="647.05" y2="2073.26" stroke="#2c2d2d" stroke-width="3.6" stroke-linecap="butt"/>
<line x1="763.90" y1="2079.40" x2="763.90" y2="2060.00" stroke="#2c2d2d" stroke-width="3.5" stroke-linecap="butt"/>
<line x1="751.15" y1="2060.00" x2="776.65" y2="2060.00" stroke="#2c2d2d" stroke-width="3.6" stroke-linecap="butt"/>
<line x1="763.90" y1="2079.40" x2="763.90" y2="2098.80" stroke="#2c2d2d" stroke-width="3.5" stroke-linecap="butt"/>
<line x1="751.15" y1="2098.80" x2="776.65" y2="2098.80" stroke="#2c2d2d" stroke-width="3.6" stroke-linecap="butt"/>
<path d="M235.00,2186.49 L256.00,2186.49 L245.50,2203.99 Z" fill="#2d2e2e"/>
<path d="M299.80,2038.40 L320.80,2038.40 L310.30,2055.90 Z" fill="#2d2e2e"/>
<path d="M364.60,2000.09 L385.60,2000.09 L375.10,2017.59 Z" fill="#2d2e2e"/>
<path d="M494.20,2005.99 L515.20,2005.99 L504.70,2023.49 Z" fill="#2d2e2e"/>
<path d="M623.80,2050.21 L644.80,2050.21 L634.30,2067.71 Z" fill="#2d2e2e"/>
<path d="M753.40,2068.85 L774.40,2068.85 L763.90,2086.35 Z" fill="#2d2e2e"/>
<line x1="1046.50" y1="1835.30" x2="1046.50" y2="2224.70" stroke="#2c2d2d" stroke-width="4.8" stroke-linecap="butt"/>
<line x1="1030.50" y1="1837.70" x2="1046.50" y2="1837.70" stroke="#2c2d2d" stroke-width="4.8" stroke-linecap="butt"/>
<line x1="1030.50" y1="1966.00" x2="1046.50" y2="1966.00" stroke="#2c2d2d" stroke-width="4.8" stroke-linecap="butt"/>
<line x1="1030.50" y1="2094.70" x2="1046.50" y2="2094.70" stroke="#2c2d2d" stroke-width="4.8" stroke-linecap="butt"/>
<line x1="1030.50" y1="2222.30" x2="1046.50" y2="2222.30" stroke="#2c2d2d" stroke-width="4.8" stroke-linecap="butt"/>
<text transform="translate(919.48,1851.85) scale(0.9500,1)" style="font-size:41.00px;font-weight:bold;font-style:normal" fill="#282828">30000</text>
<text transform="translate(919.48,1980.14) scale(0.9500,1)" style="font-size:41.00px;font-weight:bold;font-style:normal" fill="#282828">20000</text>
<text transform="translate(919.48,2108.84) scale(0.9500,1)" style="font-size:41.00px;font-weight:bold;font-style:normal" fill="#282828">10000</text>
<text transform="translate(1006.14,2236.45) scale(0.9500,1)" style="font-size:41.00px;font-weight:bold;font-style:normal" fill="#282828">0</text>
<g transform="translate(899.70,2241.60) rotate(-90) scale(0.9473,1)"><text x="0.00" y="0.00" style="font-size:50.50px;font-weight:bold;font-style:normal" fill="#282828">AUC (mg.dL</text><text x="291.74" y="-13.70" style="font-size:33.00px;font-weight:normal;font-style:normal" fill="#282828">-1</text><text x="321.08" y="0.00" style="font-size:50.50px;font-weight:bold;font-style:normal" fill="#282828">.mim)</text></g>
<line x1="1150.35" y1="2069.50" x2="1150.35" y2="2064.20" stroke="#2c2d2d" stroke-width="5" stroke-linecap="butt"/>
<line x1="1137.60" y1="2064.20" x2="1163.10" y2="2064.20" stroke="#2c2d2d" stroke-width="5.4" stroke-linecap="butt"/>
<line x1="1213.85" y1="1892.80" x2="1213.85" y2="1874.90" stroke="#2c2d2d" stroke-width="5" stroke-linecap="butt"/>
<line x1="1201.10" y1="1874.90" x2="1226.60" y2="1874.90" stroke="#2c2d2d" stroke-width="5.4" stroke-linecap="butt"/>
<line x1="1276.35" y1="2004.00" x2="1276.35" y2="1998.00" stroke="#2c2d2d" stroke-width="5" stroke-linecap="butt"/>
<line x1="1263.60" y1="1998.00" x2="1289.10" y2="1998.00" stroke="#2c2d2d" stroke-width="5.4" stroke-linecap="butt"/>
<rect x="1127.20" y="2068.50" width="46.30" height="154.30" fill="#2c2d2d"/>
<rect x="1131.90" y="2072.90" width="36.90" height="145.90" fill="#ffffff"/>
<rect x="1190.70" y="1891.80" width="46.30" height="331.00" fill="#2c2d2d"/>
<rect x="1195.40" y="1896.20" width="36.90" height="322.60" fill="#aaabad"/>
<rect x="1252.90" y="2003.00" width="46.90" height="219.80" fill="#2d2e2e"/>
<text transform="translate(1186.82,1873.31) scale(1.1149,1)" style="font-size:55.14px;font-weight:normal;font-style:normal" fill="#282828">**</text>
<text transform="translate(1255.92,1999.61) scale(1.1197,1)" style="font-size:55.14px;font-weight:normal;font-style:normal" fill="#282828">**</text>
<text transform="translate(1267.21,1947.00) scale(0.9819,1)" style="font-size:46.00px;font-weight:bold;font-style:normal" fill="#282828">#</text>
<text transform="translate(1452.84,1773.40) scale(0.9516,1)" style="font-size:77.20px;font-weight:bold;font-style:normal" fill="#282828">F.</text>
<line x1="1700.30" y1="1812.60" x2="1700.30" y2="2284.00" stroke="#2c2d2d" stroke-width="6" stroke-linecap="butt"/>
<line x1="1682.80" y1="1815.60" x2="1700.30" y2="1815.60" stroke="#2c2d2d" stroke-width="6" stroke-linecap="butt"/>
<line x1="1682.80" y1="1971.10" x2="1700.30" y2="1971.10" stroke="#2c2d2d" stroke-width="6" stroke-linecap="butt"/>
<line x1="1682.80" y1="2125.40" x2="1700.30" y2="2125.40" stroke="#2c2d2d" stroke-width="6" stroke-linecap="butt"/>
<line x1="1682.80" y1="2281.00" x2="1700.30" y2="2281.00" stroke="#2c2d2d" stroke-width="6" stroke-linecap="butt"/>
<text x="1601.29" y="1830.78" style="font-size:44.00px;font-weight:bold;font-style:normal" fill="#282828">300</text>
<text x="1601.29" y="1986.28" style="font-size:44.00px;font-weight:bold;font-style:normal" fill="#282828">200</text>
<text x="1601.29" y="2140.58" style="font-size:44.00px;font-weight:bold;font-style:normal" fill="#282828">100</text>
<text x="1650.24" y="2296.18" style="font-size:44.00px;font-weight:bold;font-style:normal" fill="#282828">0</text>
<g transform="translate(1563.30,2283.99) rotate(-90) scale(0.9435,1)"><text x="0.00" y="0.00" style="font-size:50.50px;font-weight:bold;font-style:normal" fill="#282828">6-S melatonin (ng/mL)</text></g>
<line x1="1825.65" y1="1927.20" x2="1825.65" y2="1875.60" stroke="#2c2d2d" stroke-width="5.5" stroke-linecap="butt"/>
<line x1="1810.15" y1="1875.60" x2="1841.15" y2="1875.60" stroke="#2c2d2d" stroke-width="5.8" stroke-linecap="butt"/>
<line x1="1902.05" y1="2149.10" x2="1902.05" y2="2126.30" stroke="#2c2d2d" stroke-width="5.5" stroke-linecap="butt"/>
<line x1="1886.55" y1="2126.30" x2="1917.55" y2="2126.30" stroke="#2c2d2d" stroke-width="5.8" stroke-linecap="butt"/>
<line x1="1977.35" y1="1890.80" x2="1977.35" y2="1832.40" stroke="#2c2d2d" stroke-width="5.5" stroke-linecap="butt"/>
<line x1="1961.85" y1="1832.40" x2="1992.85" y2="1832.40" stroke="#2c2d2d" stroke-width="5.8" stroke-linecap="butt"/>
<rect x="1797.30" y="1926.20" width="56.70" height="355.30" fill="#2c2d2d"/>
<rect x="1802.00" y="1930.60" width="47.30" height="346.90" fill="#ffffff"/>
<rect x="1874.40" y="2148.10" width="55.30" height="133.40" fill="#2c2d2d"/>
<rect x="1879.10" y="2152.50" width="45.90" height="125.00" fill="#aaabad"/>
<rect x="1948.60" y="1889.80" width="57.50" height="391.70" fill="#2d2e2e"/>
<text transform="translate(1879.12,2127.91) scale(1.1149,1)" style="font-size:55.14px;font-weight:normal;font-style:normal" fill="#282828">**</text>
<text transform="translate(54.95,2584.50) scale(0.9542,1)" style="font-size:77.20px;font-weight:bold;font-style:normal" fill="#282828">G.</text>
<line x1="190.50" y1="2639.40" x2="190.50" y2="3163.20" stroke="#2c2d2d" stroke-width="6" stroke-linecap="butt"/>
<line x1="173.00" y1="2642.40" x2="190.50" y2="2642.40" stroke="#2c2d2d" stroke-width="6" stroke-linecap="butt"/>
<line x1="173.00" y1="2745.96" x2="190.50" y2="2745.96" stroke="#2c2d2d" stroke-width="6" stroke-linecap="butt"/>
<line x1="173.00" y1="2849.52" x2="190.50" y2="2849.52" stroke="#2c2d2d" stroke-width="6" stroke-linecap="butt"/>
<line x1="173.00" y1="2953.08" x2="190.50" y2="2953.08" stroke="#2c2d2d" stroke-width="6" stroke-linecap="butt"/>
<line x1="173.00" y1="3056.64" x2="190.50" y2="3056.64" stroke="#2c2d2d" stroke-width="6" stroke-linecap="butt"/>
<line x1="173.00" y1="3160.20" x2="190.50" y2="3160.20" stroke="#2c2d2d" stroke-width="6" stroke-linecap="butt"/>
<text x="98.62" y="2656.89" style="font-size:42.00px;font-weight:bold;font-style:normal" fill="#282828">175</text>
<text x="99.14" y="2760.45" style="font-size:42.00px;font-weight:bold;font-style:normal" fill="#282828">150</text>
<text x="98.62" y="2864.01" style="font-size:42.00px;font-weight:bold;font-style:normal" fill="#282828">125</text>
<text x="99.14" y="2967.57" style="font-size:42.00px;font-weight:bold;font-style:normal" fill="#282828">100</text>
<text x="122.03" y="3071.13" style="font-size:42.00px;font-weight:bold;font-style:normal" fill="#282828">75</text>
<text x="122.56" y="3174.69" style="font-size:42.00px;font-weight:bold;font-style:normal" fill="#282828">50</text>
<g transform="translate(57.20,3092.01) rotate(-90) scale(0.9531,1)"><text x="0.00" y="0.00" style="font-size:50.00px;font-weight:bold;font-style:normal" fill="#282828">Glucose (mg/dL)</text></g>
<line x1="245.30" y1="3217.50" x2="770.00" y2="3217.50" stroke="#2c2d2d" stroke-width="6" stroke-linecap="butt"/>
<line x1="248.30" y1="3217.50" x2="248.30" y2="3234.50" stroke="#2c2d2d" stroke-width="6" stroke-linecap="butt"/>
<line x1="334.75" y1="3217.50" x2="334.75" y2="3234.50" stroke="#2c2d2d" stroke-width="6" stroke-linecap="butt"/>
<line x1="421.20" y1="3217.50" x2="421.20" y2="3234.50" stroke="#2c2d2d" stroke-width="6" stroke-linecap="butt"/>
<line x1="507.65" y1="3217.50" x2="507.65" y2="3234.50" stroke="#2c2d2d" stroke-width="6" stroke-linecap="butt"/>
<line x1="594.10" y1="3217.50" x2="594.10" y2="3234.50" stroke="#2c2d2d" stroke-width="6" stroke-linecap="butt"/>
<line x1="680.55" y1="3217.50" x2="680.55" y2="3234.50" stroke="#2c2d2d" stroke-width="6" stroke-linecap="butt"/>
<line x1="767.00" y1="3217.50" x2="767.00" y2="3234.50" stroke="#2c2d2d" stroke-width="6" stroke-linecap="butt"/>
<text transform="translate(237.32,3285.50) scale(0.9200,1)" style="font-size:43.00px;font-weight:bold;font-style:normal" fill="#282828">0</text>
<text transform="translate(323.72,3285.50) scale(0.9200,1)" style="font-size:43.00px;font-weight:bold;font-style:normal" fill="#282828">5</text>
<text transform="translate(398.80,3285.50) scale(0.9200,1)" style="font-size:43.00px;font-weight:bold;font-style:normal" fill="#282828">10</text>
<text transform="translate(485.00,3285.50) scale(0.9200,1)" style="font-size:43.00px;font-weight:bold;font-style:normal" fill="#282828">15</text>
<text transform="translate(572.24,3285.50) scale(0.9200,1)" style="font-size:43.00px;font-weight:bold;font-style:normal" fill="#282828">20</text>
<text transform="translate(658.45,3285.50) scale(0.9200,1)" style="font-size:43.00px;font-weight:bold;font-style:normal" fill="#282828">25</text>
<text transform="translate(745.39,3285.50) scale(0.9200,1)" style="font-size:43.00px;font-weight:bold;font-style:normal" fill="#282828">30</text>
<text transform="translate(809.29,3284.50) scale(1.0018,1)" style="font-size:46.00px;font-weight:normal;font-style:normal" fill="#282828">min</text>
<polyline points="248.30,2861.95 334.75,2786.14 421.20,2920.36 507.65,3014.39 594.10,3093.09 680.55,3045.87 767.00,3085.64" fill="none" stroke="#2c2d2d" stroke-width="3"/>
<line x1="248.30" y1="2861.95" x2="248.30" y2="2821.45" stroke="#2c2d2d" stroke-width="3.5" stroke-linecap="butt"/>
<line x1="235.55" y1="2821.45" x2="261.05" y2="2821.45" stroke="#2c2d2d" stroke-width="3.6" stroke-linecap="butt"/>
<line x1="248.30" y1="2861.95" x2="248.30" y2="2902.45" stroke="#2c2d2d" stroke-width="3.5" stroke-linecap="butt"/>
<line x1="235.55" y1="2902.45" x2="261.05" y2="2902.45" stroke="#2c2d2d" stroke-width="3.6" stroke-linecap="butt"/>
<line x1="334.75" y1="2786.14" x2="334.75" y2="2765.14" stroke="#2c2d2d" stroke-width="3.5" stroke-linecap="butt"/>
<line x1="322.00" y1="2765.14" x2="347.50" y2="2765.14" stroke="#2c2d2d" stroke-width="3.6" stroke-linecap="butt"/>
<line x1="334.75" y1="2786.14" x2="334.75" y2="2807.14" stroke="#2c2d2d" stroke-width="3.5" stroke-linecap="butt"/>
<line x1="322.00" y1="2807.14" x2="347.50" y2="2807.14" stroke="#2c2d2d" stroke-width="3.6" stroke-linecap="butt"/>
<line x1="421.20" y1="2920.36" x2="421.20" y2="2889.66" stroke="#2c2d2d" stroke-width="3.5" stroke-linecap="butt"/>
<line x1="408.45" y1="2889.66" x2="433.95" y2="2889.66" stroke="#2c2d2d" stroke-width="3.6" stroke-linecap="butt"/>
<line x1="421.20" y1="2920.36" x2="421.20" y2="2951.06" stroke="#2c2d2d" stroke-width="3.5" stroke-linecap="butt"/>
<line x1="408.45" y1="2951.06" x2="433.95" y2="2951.06" stroke="#2c2d2d" stroke-width="3.6" stroke-linecap="butt"/>
<line x1="507.65" y1="3014.39" x2="507.65" y2="2990.39" stroke="#2c2d2d" stroke-width="3.5" stroke-linecap="butt"/>
<line x1="494.90" y1="2990.39" x2="520.40" y2="2990.39" stroke="#2c2d2d" stroke-width="3.6" stroke-linecap="butt"/>
<line x1="507.65" y1="3014.39" x2="507.65" y2="3038.39" stroke="#2c2d2d" stroke-width="3.5" stroke-linecap="butt"/>
<line x1="494.90" y1="3038.39" x2="520.40" y2="3038.39" stroke="#2c2d2d" stroke-width="3.6" stroke-linecap="butt"/>
<line x1="594.10" y1="3093.09" x2="594.10" y2="3073.09" stroke="#2c2d2d" stroke-width="3.5" stroke-linecap="butt"/>
<line x1="581.35" y1="3073.09" x2="606.85" y2="3073.09" stroke="#2c2d2d" stroke-width="3.6" stroke-linecap="butt"/>
<line x1="594.10" y1="3093.09" x2="594.10" y2="3113.09" stroke="#2c2d2d" stroke-width="3.5" stroke-linecap="butt"/>
<line x1="581.35" y1="3113.09" x2="606.85" y2="3113.09" stroke="#2c2d2d" stroke-width="3.6" stroke-linecap="butt"/>
<line x1="680.55" y1="3045.87" x2="680.55" y2="3025.87" stroke="#2c2d2d" stroke-width="3.5" stroke-linecap="butt"/>
<line x1="667.80" y1="3025.87" x2="693.30" y2="3025.87" stroke="#2c2d2d" stroke-width="3.6" stroke-linecap="butt"/>
<line x1="680.55" y1="3045.87" x2="680.55" y2="3065.87" stroke="#2c2d2d" stroke-width="3.5" stroke-linecap="butt"/>
<line x1="667.80" y1="3065.87" x2="693.30" y2="3065.87" stroke="#2c2d2d" stroke-width="3.6" stroke-linecap="butt"/>
<line x1="767.00" y1="3085.64" x2="767.00" y2="3054.64" stroke="#2c2d2d" stroke-width="3.5" stroke-linecap="butt"/>
<line x1="754.25" y1="3054.64" x2="779.75" y2="3054.64" stroke="#2c2d2d" stroke-width="3.6" stroke-linecap="butt"/>
<line x1="767.00" y1="3085.64" x2="767.00" y2="3116.64" stroke="#2c2d2d" stroke-width="3.5" stroke-linecap="butt"/>
<line x1="754.25" y1="3116.64" x2="779.75" y2="3116.64" stroke="#2c2d2d" stroke-width="3.6" stroke-linecap="butt"/>
<rect x="237.05" y="2850.70" width="22.50" height="22.50" fill="#2d2e2e"/>
<rect x="323.50" y="2774.89" width="22.50" height="22.50" fill="#2d2e2e"/>
<rect x="409.95" y="2909.11" width="22.50" height="22.50" fill="#2d2e2e"/>
<rect x="496.40" y="3003.14" width="22.50" height="22.50" fill="#2d2e2e"/>
<rect x="582.85" y="3081.84" width="22.50" height="22.50" fill="#2d2e2e"/>
<rect x="669.30" y="3034.62" width="22.50" height="22.50" fill="#2d2e2e"/>
<rect x="755.75" y="3074.39" width="22.50" height="22.50" fill="#2d2e2e"/>
<polyline points="248.30,2794.43 334.75,2734.36 421.20,2790.28 507.65,2859.05 594.10,2905.44 680.55,2917.87 767.00,2924.91" fill="none" stroke="#2c2d2d" stroke-width="3"/>
<line x1="248.30" y1="2794.43" x2="248.30" y2="2772.43" stroke="#2c2d2d" stroke-width="3.5" stroke-linecap="butt"/>
<line x1="235.55" y1="2772.43" x2="261.05" y2="2772.43" stroke="#2c2d2d" stroke-width="3.6" stroke-linecap="butt"/>
<line x1="248.30" y1="2794.43" x2="248.30" y2="2816.43" stroke="#2c2d2d" stroke-width="3.5" stroke-linecap="butt"/>
<line x1="235.55" y1="2816.43" x2="261.05" y2="2816.43" stroke="#2c2d2d" stroke-width="3.6" stroke-linecap="butt"/>
<line x1="334.75" y1="2734.36" x2="334.75" y2="2692.36" stroke="#2c2d2d" stroke-width="3.5" stroke-linecap="butt"/>
<line x1="322.00" y1="2692.36" x2="347.50" y2="2692.36" stroke="#2c2d2d" stroke-width="3.6" stroke-linecap="butt"/>
<line x1="334.75" y1="2734.36" x2="334.75" y2="2776.36" stroke="#2c2d2d" stroke-width="3.5" stroke-linecap="butt"/>
<line x1="322.00" y1="2776.36" x2="347.50" y2="2776.36" stroke="#2c2d2d" stroke-width="3.6" stroke-linecap="butt"/>
<line x1="421.20" y1="2790.28" x2="421.20" y2="2751.78" stroke="#2c2d2d" stroke-width="3.5" stroke-linecap="butt"/>
<line x1="408.45" y1="2751.78" x2="433.95" y2="2751.78" stroke="#2c2d2d" stroke-width="3.6" stroke-linecap="butt"/>
<line x1="421.20" y1="2790.28" x2="421.20" y2="2828.78" stroke="#2c2d2d" stroke-width="3.5" stroke-linecap="butt"/>
<line x1="408.45" y1="2828.78" x2="433.95" y2="2828.78" stroke="#2c2d2d" stroke-width="3.6" stroke-linecap="butt"/>
<line x1="507.65" y1="2859.05" x2="507.65" y2="2801.35" stroke="#2c2d2d" stroke-width="3.5" stroke-linecap="butt"/>
<line x1="494.90" y1="2801.35" x2="520.40" y2="2801.35" stroke="#2c2d2d" stroke-width="3.6" stroke-linecap="butt"/>
<line x1="507.65" y1="2859.05" x2="507.65" y2="2916.75" stroke="#2c2d2d" stroke-width="3.5" stroke-linecap="butt"/>
<line x1="494.90" y1="2916.75" x2="520.40" y2="2916.75" stroke="#2c2d2d" stroke-width="3.6" stroke-linecap="butt"/>
<line x1="594.10" y1="2905.44" x2="594.10" y2="2841.44" stroke="#2c2d2d" stroke-width="3.5" stroke-linecap="butt"/>
<line x1="581.35" y1="2841.44" x2="606.85" y2="2841.44" stroke="#2c2d2d" stroke-width="3.6" stroke-linecap="butt"/>
<line x1="594.10" y1="2905.44" x2="594.10" y2="2969.44" stroke="#2c2d2d" stroke-width="3.5" stroke-linecap="butt"/>
<line x1="581.35" y1="2969.44" x2="606.85" y2="2969.44" stroke="#2c2d2d" stroke-width="3.6" stroke-linecap="butt"/>
<line x1="680.55" y1="2917.87" x2="680.55" y2="2856.27" stroke="#2c2d2d" stroke-width="3.5" stroke-linecap="butt"/>
<line x1="667.80" y1="2856.27" x2="693.30" y2="2856.27" stroke="#2c2d2d" stroke-width="3.6" stroke-linecap="butt"/>
<line x1="680.55" y1="2917.87" x2="680.55" y2="2979.47" stroke="#2c2d2d" stroke-width="3.5" stroke-linecap="butt"/>
<line x1="667.80" y1="2979.47" x2="693.30" y2="2979.47" stroke="#2c2d2d" stroke-width="3.6" stroke-linecap="butt"/>
<line x1="767.00" y1="2924.91" x2="767.00" y2="2862.11" stroke="#2c2d2d" stroke-width="3.5" stroke-linecap="butt"/>
<line x1="754.25" y1="2862.11" x2="779.75" y2="2862.11" stroke="#2c2d2d" stroke-width="3.6" stroke-linecap="butt"/>
<line x1="767.00" y1="2924.91" x2="767.00" y2="2987.71" stroke="#2c2d2d" stroke-width="3.5" stroke-linecap="butt"/>
<line x1="754.25" y1="2987.71" x2="779.75" y2="2987.71" stroke="#2c2d2d" stroke-width="3.6" stroke-linecap="butt"/>
<circle cx="248.30" cy="2794.43" r="11" fill="#fff" stroke="#2c2d2d" stroke-width="3"/>
<circle cx="334.75" cy="2734.36" r="11" fill="#fff" stroke="#2c2d2d" stroke-width="3"/>
<circle cx="421.20" cy="2790.28" r="11" fill="#fff" stroke="#2c2d2d" stroke-width="3"/>
<circle cx="507.65" cy="2859.05" r="11" fill="#fff" stroke="#2c2d2d" stroke-width="3"/>
<circle cx="594.10" cy="2905.44" r="11" fill="#fff" stroke="#2c2d2d" stroke-width="3"/>
<circle cx="680.55" cy="2917.87" r="11" fill="#fff" stroke="#2c2d2d" stroke-width="3"/>
<circle cx="767.00" cy="2924.91" r="11" fill="#fff" stroke="#2c2d2d" stroke-width="3"/>
<polyline points="248.30,2793.18 334.75,2799.81 421.20,2889.29 507.65,3047.11 594.10,3091.85 680.55,3045.87 767.00,3085.64" fill="none" stroke="#2c2d2d" stroke-width="3"/>
<line x1="421.20" y1="2889.29" x2="421.20" y2="2859.59" stroke="#2c2d2d" stroke-width="3.5" stroke-linecap="butt"/>
<line x1="408.45" y1="2859.59" x2="433.95" y2="2859.59" stroke="#2c2d2d" stroke-width="3.6" stroke-linecap="butt"/>
<line x1="421.20" y1="2889.29" x2="421.20" y2="2918.99" stroke="#2c2d2d" stroke-width="3.5" stroke-linecap="butt"/>
<line x1="408.45" y1="2918.99" x2="433.95" y2="2918.99" stroke="#2c2d2d" stroke-width="3.6" stroke-linecap="butt"/>
<line x1="507.65" y1="3047.11" x2="507.65" y2="3032.11" stroke="#2c2d2d" stroke-width="3.5" stroke-linecap="butt"/>
<line x1="494.90" y1="3032.11" x2="520.40" y2="3032.11" stroke="#2c2d2d" stroke-width="3.6" stroke-linecap="butt"/>
<line x1="507.65" y1="3047.11" x2="507.65" y2="3062.11" stroke="#2c2d2d" stroke-width="3.5" stroke-linecap="butt"/>
<line x1="494.90" y1="3062.11" x2="520.40" y2="3062.11" stroke="#2c2d2d" stroke-width="3.6" stroke-linecap="butt"/>
<path d="M237.80,2782.63 L258.80,2782.63 L248.30,2800.13 Z" fill="#2d2e2e"/>
<path d="M324.25,2789.26 L345.25,2789.26 L334.75,2806.76 Z" fill="#2d2e2e"/>
<path d="M410.70,2878.74 L431.70,2878.74 L421.20,2896.24 Z" fill="#2d2e2e"/>
<path d="M497.15,3036.56 L518.15,3036.56 L507.65,3054.06 Z" fill="#2d2e2e"/>
<path d="M583.60,3081.30 L604.60,3081.30 L594.10,3098.80 Z" fill="#2d2e2e"/>
<path d="M670.05,3035.32 L691.05,3035.32 L680.55,3052.82 Z" fill="#2d2e2e"/>
<path d="M756.50,3075.09 L777.50,3075.09 L767.00,3092.59 Z" fill="#2d2e2e"/>
<line x1="1015.60" y1="2674.80" x2="1015.60" y2="3067.10" stroke="#2c2d2d" stroke-width="6" stroke-linecap="butt"/>
<line x1="1001.10" y1="2677.80" x2="1015.60" y2="2677.80" stroke="#2c2d2d" stroke-width="6" stroke-linecap="butt"/>
<line x1="1001.10" y1="2774.60" x2="1015.60" y2="2774.60" stroke="#2c2d2d" stroke-width="6" stroke-linecap="butt"/>
<line x1="1001.10" y1="2871.40" x2="1015.60" y2="2871.40" stroke="#2c2d2d" stroke-width="6" stroke-linecap="butt"/>
<line x1="1001.10" y1="2967.60" x2="1015.60" y2="2967.60" stroke="#2c2d2d" stroke-width="6" stroke-linecap="butt"/>
<line x1="1001.10" y1="3064.10" x2="1015.60" y2="3064.10" stroke="#2c2d2d" stroke-width="6" stroke-linecap="butt"/>
<text x="973.90" y="2692.29" style="font-size:42.00px;font-weight:bold;font-style:normal" fill="#282828">4</text>
<text x="975.16" y="2789.09" style="font-size:42.00px;font-weight:bold;font-style:normal" fill="#282828">3</text>
<text x="975.26" y="2885.89" style="font-size:42.00px;font-weight:bold;font-style:normal" fill="#282828">2</text>
<text x="974.85" y="2982.09" style="font-size:42.00px;font-weight:bold;font-style:normal" fill="#282828">1</text>
<text x="975.37" y="3078.59" style="font-size:42.00px;font-weight:bold;font-style:normal" fill="#282828">0</text>
<g transform="translate(930.00,3028.34) rotate(-90) scale(0.9498,1)"><text x="0.00" y="0.00" style="font-size:49.00px;font-weight:bold;font-style:normal" fill="#282828">K</text><text x="35.39" y="12.00" style="font-size:33.00px;font-weight:normal;font-style:normal" fill="#282828">ITT</text><text x="84.87" y="0.00" style="font-size:49.00px;font-weight:bold;font-style:normal" fill="#282828"> (min</text><text x="201.92" y="-14.00" style="font-size:33.00px;font-weight:normal;font-style:normal" fill="#282828">-1</text><text x="231.26" y="0.00" style="font-size:49.00px;font-weight:bold;font-style:normal" fill="#282828">.100)</text></g>
<line x1="1120.15" y1="2795.60" x2="1120.15" y2="2764.50" stroke="#2c2d2d" stroke-width="5.3" stroke-linecap="butt"/>
<line x1="1107.30" y1="2764.50" x2="1133.00" y2="2764.50" stroke="#2c2d2d" stroke-width="5.5" stroke-linecap="butt"/>
<line x1="1182.65" y1="2921.30" x2="1182.65" y2="2878.80" stroke="#2c2d2d" stroke-width="5.3" stroke-linecap="butt"/>
<line x1="1169.80" y1="2878.80" x2="1195.50" y2="2878.80" stroke="#2c2d2d" stroke-width="5.5" stroke-linecap="butt"/>
<line x1="1245.85" y1="2802.50" x2="1245.85" y2="2789.30" stroke="#2c2d2d" stroke-width="5.3" stroke-linecap="butt"/>
<line x1="1233.00" y1="2789.30" x2="1258.70" y2="2789.30" stroke="#2c2d2d" stroke-width="5.5" stroke-linecap="butt"/>
<rect x="1096.30" y="2794.60" width="47.70" height="270.00" fill="#2c2d2d"/>
<rect x="1101.00" y="2799.00" width="38.30" height="261.60" fill="#ffffff"/>
<rect x="1159.70" y="2920.30" width="45.90" height="144.30" fill="#2c2d2d"/>
<rect x="1164.40" y="2924.70" width="36.50" height="135.90" fill="#aaabad"/>
<rect x="1222.00" y="2801.50" width="47.70" height="263.10" fill="#2d2e2e"/>
<text transform="translate(1323.75,2532.30) scale(0.9494,1)" style="font-size:77.20px;font-weight:bold;font-style:normal" fill="#282828">H.</text>
<line x1="1539.00" y1="2600.40" x2="1539.00" y2="3064.80" stroke="#2c2d2d" stroke-width="6" stroke-linecap="butt"/>
<line x1="1526.00" y1="2603.40" x2="1539.00" y2="2603.40" stroke="#2c2d2d" stroke-width="6" stroke-linecap="butt"/>
<line x1="1526.00" y1="2756.00" x2="1539.00" y2="2756.00" stroke="#2c2d2d" stroke-width="6" stroke-linecap="butt"/>
<line x1="1526.00" y1="2908.70" x2="1539.00" y2="2908.70" stroke="#2c2d2d" stroke-width="6" stroke-linecap="butt"/>
<line x1="1526.00" y1="3061.80" x2="1539.00" y2="3061.80" stroke="#2c2d2d" stroke-width="6" stroke-linecap="butt"/>
<text x="1464.46" y="2616.86" style="font-size:39.00px;font-weight:bold;font-style:normal" fill="#282828">1.5</text>
<text x="1464.95" y="2769.45" style="font-size:39.00px;font-weight:bold;font-style:normal" fill="#282828">1.0</text>
<text x="1464.46" y="2922.15" style="font-size:39.00px;font-weight:bold;font-style:normal" fill="#282828">0.5</text>
<text x="1464.95" y="3075.26" style="font-size:39.00px;font-weight:bold;font-style:normal" fill="#282828">0.0</text>
<g transform="translate(1431.00,3054.40) rotate(-90) scale(0.9954,1)"><text x="0.00" y="0.00" style="font-size:48.00px;font-weight:bold;font-style:normal" fill="#282828">target gene </text><text x="272.07" y="0.00" style="font-size:48.00px;font-weight:normal;font-style:normal" fill="#282828">/ </text><text x="298.75" y="0.00" style="font-size:48.00px;font-weight:bold;font-style:italic" fill="#282828">gapdh</text></g>
<line x1="1646.10" y1="2740.90" x2="1646.10" y2="2699.20" stroke="#2c2d2d" stroke-width="4.9" stroke-linecap="butt"/>
<line x1="1632.60" y1="2699.20" x2="1659.60" y2="2699.20" stroke="#2c2d2d" stroke-width="5.2" stroke-linecap="butt"/>
<line x1="1713.15" y1="2659.60" x2="1713.15" y2="2627.70" stroke="#2c2d2d" stroke-width="4.9" stroke-linecap="butt"/>
<line x1="1699.65" y1="2627.70" x2="1726.65" y2="2627.70" stroke="#2c2d2d" stroke-width="5.2" stroke-linecap="butt"/>
<line x1="1779.40" y1="2768.60" x2="1779.40" y2="2735.30" stroke="#2c2d2d" stroke-width="4.9" stroke-linecap="butt"/>
<line x1="1765.90" y1="2735.30" x2="1792.90" y2="2735.30" stroke="#2c2d2d" stroke-width="5.2" stroke-linecap="butt"/>
<line x1="1902.05" y1="2754.30" x2="1902.05" y2="2738.40" stroke="#2c2d2d" stroke-width="4.9" stroke-linecap="butt"/>
<line x1="1888.55" y1="2738.40" x2="1915.55" y2="2738.40" stroke="#2c2d2d" stroke-width="5.2" stroke-linecap="butt"/>
<line x1="1968.75" y1="2776.60" x2="1968.75" y2="2762.70" stroke="#2c2d2d" stroke-width="4.9" stroke-linecap="butt"/>
<line x1="1955.25" y1="2762.70" x2="1982.25" y2="2762.70" stroke="#2c2d2d" stroke-width="5.2" stroke-linecap="butt"/>
<line x1="2035.10" y1="2782.80" x2="2035.10" y2="2754.40" stroke="#2c2d2d" stroke-width="4.9" stroke-linecap="butt"/>
<line x1="2021.60" y1="2754.40" x2="2048.60" y2="2754.40" stroke="#2c2d2d" stroke-width="5.2" stroke-linecap="butt"/>
<rect x="1621.80" y="2739.90" width="48.60" height="322.40" fill="#2c2d2d"/>
<rect x="1626.50" y="2744.30" width="39.20" height="314.00" fill="#ffffff"/>
<rect x="1688.50" y="2658.60" width="49.30" height="403.70" fill="#2c2d2d"/>
<rect x="1693.20" y="2663.00" width="39.90" height="395.30" fill="#aaabad"/>
<rect x="1754.40" y="2767.60" width="50.00" height="294.70" fill="#2d2e2e"/>
<rect x="1878.10" y="2753.30" width="47.90" height="309.00" fill="#2c2d2d"/>
<rect x="1882.80" y="2757.70" width="38.50" height="300.60" fill="#ffffff"/>
<rect x="1944.80" y="2775.60" width="47.90" height="286.70" fill="#2c2d2d"/>
<rect x="1949.50" y="2780.00" width="38.50" height="278.30" fill="#aaabad"/>
<rect x="2010.80" y="2781.80" width="48.60" height="280.50" fill="#2d2e2e"/>
<line x1="1606.80" y1="2572.60" x2="1802.00" y2="2572.60" stroke="#2c2d2d" stroke-width="6" stroke-linecap="butt"/>
<line x1="1866.80" y1="2572.60" x2="2063.00" y2="2572.60" stroke="#2c2d2d" stroke-width="6" stroke-linecap="butt"/>
<text x="1622.74" y="2535.80" style="font-size:48.00px;font-weight:normal;font-style:italic" fill="#282828">cyp1a2</text>
<text transform="translate(1889.48,2537.60) scale(0.9847,1)" style="font-size:48.00px;font-weight:normal;font-style:italic" fill="#282828">sult1a1</text>
</svg>
</body></html>
